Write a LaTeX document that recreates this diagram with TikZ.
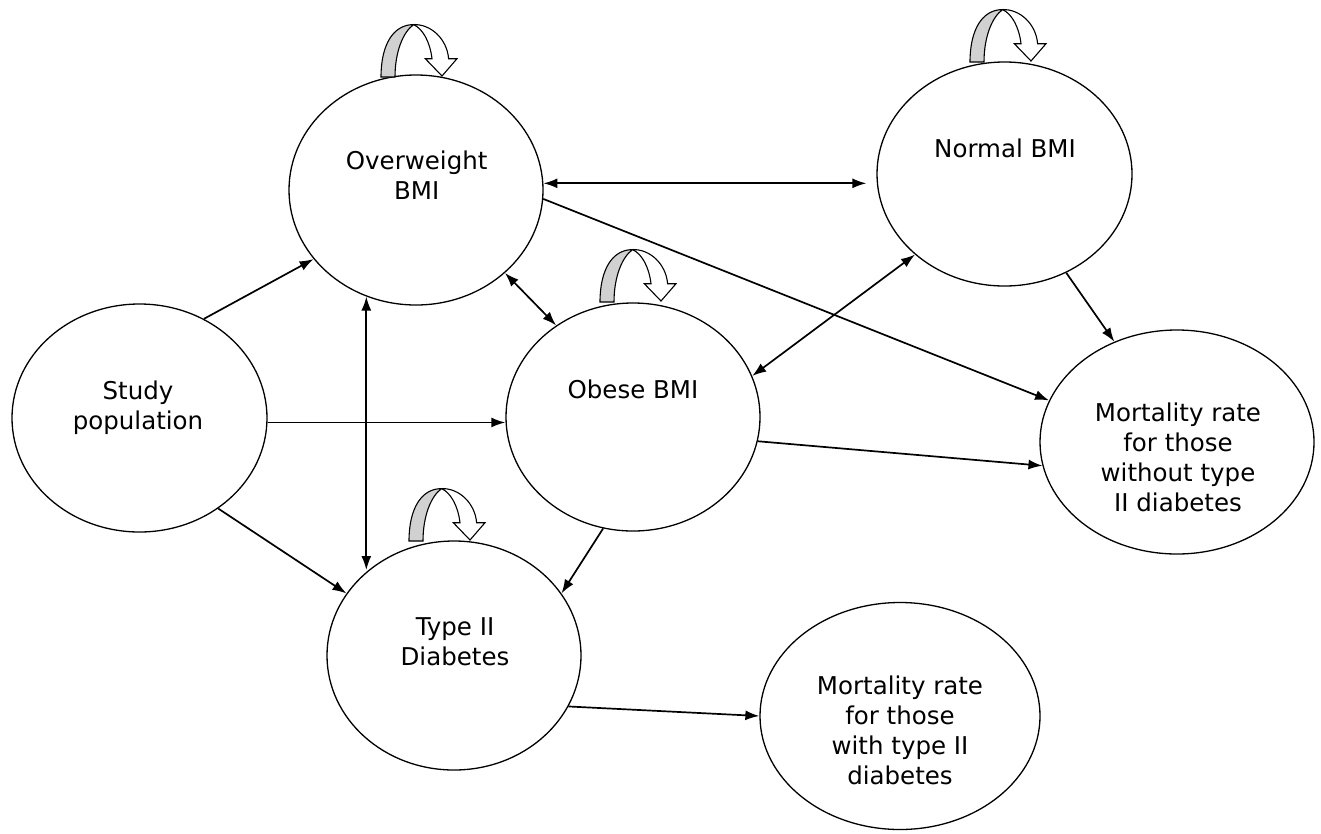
\documentclass[tikz,border=0pt]{standalone}
\usepackage{fontspec}
\setmainfont{DejaVu Sans}
\usetikzlibrary{shapes.geometric,arrows.meta}
\definecolor{bandgray}{gray}{0.82}
\begin{document}
\begin{tikzpicture}[x=1pt,y=-1pt,
  bubble/.style={draw, ellipse, line width=1.3pt, inner sep=0pt},
  lbl/.style={align=center, inner sep=0pt, font=\fontsize{24.5}{30}\selectfont},
  conn/.style={line width=1.7pt, -{Latex[length=14pt,width=10pt]}},
  biconn/.style={line width=1.7pt, {Latex[length=14pt,width=10pt]}-{Latex[length=14pt,width=10pt]}},
  loopicon/.pic={
    \draw[line width=1.1pt, fill=bandgray] (0,0) .. controls (0,-32) and (12,-52.4) .. (32.6,-52.4) .. controls (22,-45) and (14,-25) .. (14,0) -- cycle;
    \draw[line width=1.1pt, fill=white, line join=miter] (32.6,-52.4) .. controls (50,-53) and (66,-38) .. (67.6,-18.3) -- (76,-18.3) -- (61,-1) -- (44.3,-18.3) -- (51,-18.3) .. controls (49,-35) and (42,-48) .. (32.6,-52.4) -- cycle;
  }]
\useasboundingbox (0,0) rectangle (1321,833);

% ellipses
\node[bubble, minimum width=255pt, minimum height=228pt] (sp) at (139.5,418) {};
\node[bubble, minimum width=254pt, minimum height=230pt] (ow) at (416,190) {};
\node[bubble, minimum width=255pt, minimum height=224pt] (nm) at (1004.5,174) {};
\node[bubble, minimum width=254pt, minimum height=228pt] (ob) at (633,417) {};
\node[bubble, minimum width=254pt, minimum height=229pt] (td) at (454,655.5) {};
\node[bubble, minimum width=274pt, minimum height=224pt] (mw) at (1177,442) {};
\node[bubble, minimum width=280pt, minimum height=227pt] (md) at (900,716) {};

% labels
\node[lbl] (tsp) at (138,407.7) {Study\\population};
\node[lbl] (tow) at (416.7,175.6) {Overweight\\BMI};
\node[lbl] (tnm) at (1005,148.6) {Normal BMI};
\node[lbl] (tob) at (633,389.6) {Obese BMI};
\node[lbl] (ttd) at (455,641.5) {Type II\\Diabetes};
\node[lbl] (tmw) at (1178,457.6) {Mortality rate\\for those\\without type\\II diabetes};
\node[lbl] (tmd) at (900,730) {Mortality rate\\for those\\with type II\\diabetes};

% self-loop icons
\pic at (381,77) {loopicon};
\pic at (970,62) {loopicon};
\pic at (600,302) {loopicon};
\pic at (409,541) {loopicon};

% connectors
\draw[conn] (sp.57.3) -- (ow.214.2);
\draw[conn] (sp.-2.3) -- (sp.-2.3 -| ob.west);
\draw[conn] (sp.-49.3) -- (td.150.2);
\draw[biconn] (ow.245.8) -- (ow.245.8 |- td.135.6);
\draw[biconn] (ow.317) -- (ob.130.1);
\draw[biconn, shorten >=10pt] (ow.3.2) -- (ow.3.2 -| nm.west);
\draw[conn] (ow.-4.5) -- (mw.162.9);
\draw[biconn] (nm.222.7) -- (ob.19.4);
\draw[conn] (nm.-58.4) -- (mw.122.9);
\draw[conn] (ob.-11.3) -- (mw.190.3);
\draw[conn] (ob.255.4) -- (td.30.1);
\draw[conn] (td.-24.5) -- (md.180);
\end{tikzpicture}
\end{document}
